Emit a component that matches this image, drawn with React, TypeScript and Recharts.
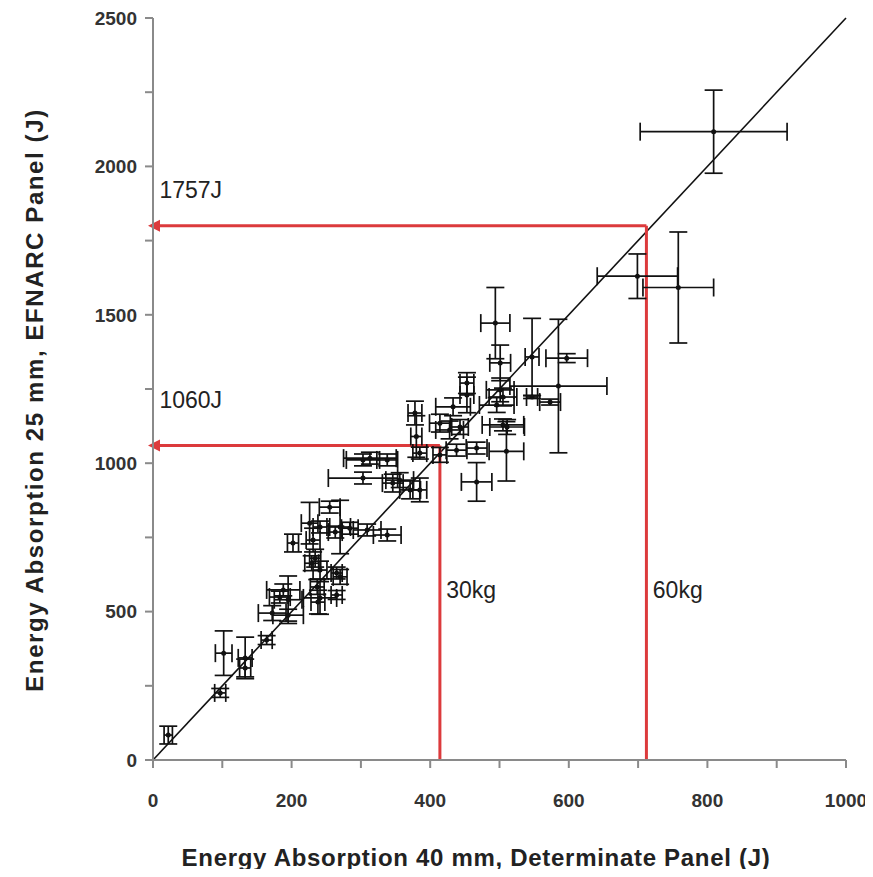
// Scatter with x/y error bars: 40 mm determinate panel vs 25 mm EFNARC panel.
// Diagonal fit line, red read-off guides with arrows at the y axis.
import {
  ErrorBar, ReferenceDot, ReferenceLine, Scatter, ScatterChart, XAxis, YAxis,
} from "recharts";

const INK = "#111";
const AXIS = "#8a8a8a";
const RED = "#dc3a3c";
const FONT = "'Liberation Sans', Arial, sans-serif";

// ---- data ------------------------------------------------------------------
const energy40 = [
  22, 97, 102, 133, 133, 164, 183, 172, 195, 195, 238, 241, 265, 188, 237, 241,
  265, 270, 229, 234, 202, 231, 226, 270, 255, 241, 263, 284, 309, 338, 303, 338,
  303, 346, 313, 356, 371, 385, 380, 414, 385, 378, 414, 428, 438, 443, 467, 467,
  433, 453, 453, 505, 510, 511, 501, 501, 496, 505, 494, 547, 597, 585, 573, 547,
  699, 758, 809,
];
const energy25 = [
  84, 226, 360, 310, 344, 404, 549, 495, 488, 540, 532, 546, 556, 573, 583, 640,
  630, 617, 663, 680, 731, 741, 798, 785, 852, 785, 768, 781, 775, 758, 1011, 1011,
  950, 933, 1017, 943, 910, 910, 1090, 1028, 1034, 1169, 1135, 1112, 1044, 1122, 937, 1051,
  1190, 1230, 1270, 1129, 1040, 1122, 1338, 1247, 1196, 1223, 1472, 1358, 1354, 1260, 1206, 1223,
  1630, 1592, 2117,
];
const err40 = [
  6, 8, 12, 8, 10, 8, 15, 20, 22, 20, 10, 24, 8, 24, 10, 10,
  8, 10, 10, 8, 8, 10, 12, 15, 15, 10, 10, 12, 20, 20, 24, 15,
  50, 15, 38, 20, 15, 10, 8, 10, 10, 10, 15, 20, 15, 12, 22, 15,
  25, 10, 10, 30, 25, 25, 15, 20, 25, 20, 21, 10, 30, 70, 15, 8,
  58, 51, 106,
];
const err25 = [
  30, 15, 75, 30, 70, 15, 20, 25, 20, 80, 40, 55, 15, 20, 25, 30,
  20, 25, 25, 30, 30, 40, 70, 90, 20, 20, 20, 20, 20, 20, 20, 20,
  20, 30, 20, 25, 30, 40, 70, 25, 20, 40, 30, 30, 20, 25, 65, 20,
  30, 60, 35, 20, 100, 25, 60, 40, 25, 30, 120, 130, 15, 225, 10, 5,
  75, 187, 140,
];

const xTicks = [0, 100, 200, 300, 400, 500, 600, 700, 800, 900, 1000];
const yTicks = [0, 250, 500, 750, 1000, 1250, 1500, 1750, 2000, 2250, 2500];

// read-off guides: x where the guide drops, y read on the EFNARC axis
const guideX = [414, 712];
const guideY = [1060, 1800];
const guideEnergy = ["1060J", "1757J"];
const guideMass = ["30kg", "60kg"];
// label anchors for the guide texts (annotation placement, not data)
const energyLabelY = [1213, 1920];
const massLabelY = 575;

const points = energy40.map((x, i) => ({
  x, y: energy25[i], ex: err40[i], ey: err25[i],
}));

// horizontal guide with a left-pointing arrow at its end
function ArrowLine(p: any) {
  const { x1, y1, x2, y2 } = p;
  const left = Math.min(x1, x2);
  const right = Math.max(x1, x2);
  const tip = left - 5;
  return (
    <g>
      <line x1={left + 6} y1={y1} x2={right} y2={y2} stroke={RED} strokeWidth={3} />
      <polygon points={`${tip},${y1} ${tip + 12},${y1 - 6} ${tip + 12},${y1 + 6}`} fill={RED} />
    </g>
  );
}

function Dot(p: any) {
  const { cx, cy } = p;
  if (cx == null || cy == null) return null;
  return <circle cx={cx} cy={cy} r={2.5} fill={INK} />;
}

const annot = { fill: "#222", fontSize: 23, fontFamily: FONT, fontWeight: 500 };

export default function App() {
  const tick = { fill: "#333", fontSize: 19, fontFamily: FONT, fontWeight: 700 };
  return (
    <div style={{ position: "relative", width: 860, height: 861, background: "#fff" }}>
      <ScatterChart width={860} height={861} margin={{ top: 10, right: 22, bottom: 49, left: 60 }}>
        <XAxis
          type="number" dataKey="x" domain={[0, 1000]} ticks={xTicks} allowDataOverflow
          tickFormatter={(v: number) => (v % 200 === 0 ? String(v) : "")}
          stroke={AXIS} strokeWidth={2} tickSize={8} tickMargin={26} height={60}
          tick={tick} interval={0}
        />
        <YAxis
          type="number" dataKey="y" domain={[0, 2500]} ticks={yTicks} allowDataOverflow
          tickFormatter={(v: number) => (v % 500 === 0 ? String(v) : "")}
          stroke={AXIS} strokeWidth={2} tickSize={8} tickMargin={8} width={85}
          tick={tick} interval={0}
        />
        <ReferenceLine
          segment={[{ x: 0, y: 0 }, { x: 1000, y: 2500 }]}
          stroke={INK} strokeWidth={1.6}
        />
        {guideX.map((gx, i) => (
          <ReferenceLine
            key={`h${i}`}
            segment={[{ x: 0, y: guideY[i] }, { x: gx, y: guideY[i] }]}
            shape={ArrowLine}
          />
        ))}
        {guideX.map((gx, i) => (
          <ReferenceLine
            key={`v${i}`}
            segment={[{ x: gx, y: guideY[i] }, { x: gx, y: 0 }]}
            stroke={RED} strokeWidth={3}
          />
        ))}
        <Scatter data={points} shape={Dot} isAnimationActive={false}>
          <ErrorBar dataKey="ex" direction="x" width={9} stroke={INK} strokeWidth={1.7} isAnimationActive={false} />
          <ErrorBar dataKey="ey" direction="y" width={9} stroke={INK} strokeWidth={1.7} isAnimationActive={false} />
        </Scatter>
        {guideEnergy.map((t, i) => (
          <ReferenceDot
            key={`e${i}`} x={2} y={energyLabelY[i]} r={0}
            label={{ value: t, position: "right", ...annot }}
          />
        ))}
        {guideMass.map((t, i) => (
          <ReferenceDot
            key={`m${i}`} x={guideX[i] + 2} y={massLabelY} r={0}
            label={{ value: t, position: "right", ...annot }}
          />
        ))}
      </ScatterChart>
      <div
        style={{
          position: "absolute", left: 27, top: 392, transform: "translate(-50%, -50%) rotate(-90deg)",
          whiteSpace: "nowrap", fontFamily: FONT, fontWeight: 700, fontSize: 24, color: "#222",
          letterSpacing: 1.6,
        }}
      >
        Energy Absorption 25 mm, EFNARC Panel (J)
      </div>
      <div
        style={{
          position: "absolute", left: 468, top: 850, transform: "translate(-50%, -50%)",
          whiteSpace: "nowrap", fontFamily: FONT, fontWeight: 700, fontSize: 24, color: "#222",
          letterSpacing: 0.7,
        }}
      >
        Energy Absorption 40 mm, Determinate Panel (J)
      </div>
    </div>
  );
}
